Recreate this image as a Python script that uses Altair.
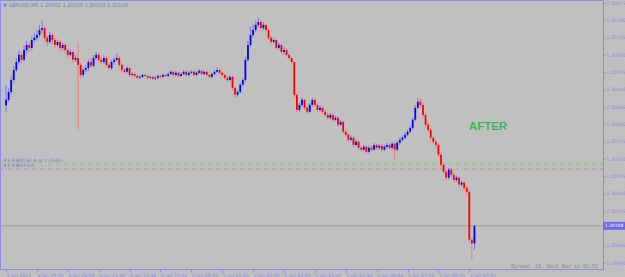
import altair as alt
import pandas as pd

# ---------------- data (GBPUSD M5) ----------------
opens = [
    1.20490, 1.20508, 1.20533, 1.20571, 1.20603, 1.20628, 1.20651, 1.20635, 1.20666, 1.20682, 1.20673, 1.20698,
    1.20705, 1.20714, 1.20730, 1.20736, 1.20705, 1.20692, 1.20714, 1.20698, 1.20682, 1.20692, 1.20673, 1.20682,
    1.20666, 1.20651, 1.20660, 1.20635, 1.20641, 1.20619, 1.20587, 1.20603, 1.20609, 1.20628, 1.20616, 1.20641,
    1.20651, 1.20635, 1.20628, 1.20641, 1.20619, 1.20609, 1.20628, 1.20635, 1.20641, 1.20619, 1.20603, 1.20597,
    1.20609, 1.20587, 1.20590, 1.20584, 1.20578, 1.20581, 1.20587, 1.20584, 1.20578, 1.20581, 1.20575, 1.20578,
    1.20584, 1.20581, 1.20587, 1.20584, 1.20590, 1.20597, 1.20587, 1.20594, 1.20584, 1.20590, 1.20597, 1.20587,
    1.20594, 1.20597, 1.20587, 1.20594, 1.20600, 1.20590, 1.20597, 1.20587, 1.20581, 1.20590, 1.20597, 1.20603,
    1.20594, 1.20587, 1.20578, 1.20571, 1.20581, 1.20546, 1.20524, 1.20533, 1.20556, 1.20571, 1.20635, 1.20682,
    1.20714, 1.20730, 1.20746, 1.20755, 1.20736, 1.20746, 1.20730, 1.20705, 1.20692, 1.20698, 1.20673, 1.20682,
    1.20660, 1.20666, 1.20651, 1.20641, 1.20628, 1.20524, 1.20476, 1.20492, 1.20508, 1.20483, 1.20470, 1.20492,
    1.20508, 1.20492, 1.20476, 1.20483, 1.20470, 1.20460, 1.20451, 1.20460, 1.20445, 1.20451, 1.20429, 1.20438,
    1.20407, 1.20397, 1.20381, 1.20388, 1.20365, 1.20375, 1.20356, 1.20350, 1.20359, 1.20343, 1.20356, 1.20350,
    1.20365, 1.20356, 1.20362, 1.20350, 1.20359, 1.20365, 1.20356, 1.20369, 1.20350, 1.20372, 1.20381, 1.20388,
    1.20397, 1.20407, 1.20419, 1.20445, 1.20483, 1.20502, 1.20492, 1.20460, 1.20429, 1.20413, 1.20388, 1.20375,
    1.20365, 1.20334, 1.20302, 1.20280, 1.20261, 1.20286, 1.20270, 1.20254, 1.20261, 1.20239, 1.20245, 1.20229,
    1.20216, 1.20064, 1.20052,
]
highs = [
    1.20555, 1.20545, 1.20585, 1.20615, 1.20640, 1.20665, 1.20660, 1.20680, 1.20695, 1.20690, 1.20710, 1.20720,
    1.20730, 1.20745, 1.20760, 1.20745, 1.20712, 1.20725, 1.20722, 1.20705, 1.20700, 1.20698, 1.20690, 1.20688,
    1.20672, 1.20668, 1.20665, 1.20650, 1.20690, 1.20625, 1.20610, 1.20618, 1.20635, 1.20640, 1.20650, 1.20660,
    1.20658, 1.20645, 1.20650, 1.20648, 1.20625, 1.20635, 1.20642, 1.20655, 1.20648, 1.20625, 1.20610, 1.20615,
    1.20612, 1.20595, 1.20594, 1.20588, 1.20586, 1.20592, 1.20591, 1.20588, 1.20585, 1.20585, 1.20583, 1.20589,
    1.20588, 1.20592, 1.20591, 1.20595, 1.20603, 1.20600, 1.20599, 1.20598, 1.20596, 1.20603, 1.20601, 1.20600,
    1.20603, 1.20601, 1.20599, 1.20606, 1.20604, 1.20602, 1.20601, 1.20592, 1.20595, 1.20602, 1.20610, 1.20607,
    1.20598, 1.20591, 1.20583, 1.20586, 1.20585, 1.20550, 1.20540, 1.20562, 1.20578, 1.20645, 1.20695, 1.20740,
    1.20750, 1.20760, 1.20770, 1.20762, 1.20755, 1.20752, 1.20735, 1.20712, 1.20706, 1.20702, 1.20690, 1.20686,
    1.20675, 1.20672, 1.20658, 1.20646, 1.20632, 1.20530, 1.20500, 1.20515, 1.20512, 1.20490, 1.20498, 1.20515,
    1.20512, 1.20497, 1.20490, 1.20488, 1.20476, 1.20466, 1.20466, 1.20465, 1.20458, 1.20456, 1.20445, 1.20442,
    1.20412, 1.20402, 1.20395, 1.20392, 1.20382, 1.20380, 1.20362, 1.20365, 1.20364, 1.20362, 1.20362, 1.20371,
    1.20370, 1.20368, 1.20366, 1.20365, 1.20371, 1.20370, 1.20375, 1.20373, 1.20378, 1.20388, 1.20395, 1.20404,
    1.20414, 1.20426, 1.20452, 1.20492, 1.20515, 1.20512, 1.20498, 1.20466, 1.20436, 1.20418, 1.20394, 1.20381,
    1.20370, 1.20340, 1.20308, 1.20286, 1.20292, 1.20292, 1.20276, 1.20268, 1.20266, 1.20252, 1.20250, 1.20234,
    1.20222, 1.20070, 1.20108,
]
lows = [
    1.20470, 1.20500, 1.20525, 1.20560, 1.20595, 1.20620, 1.20625, 1.20630, 1.20655, 1.20660, 1.20665, 1.20690,
    1.20695, 1.20705, 1.20720, 1.20695, 1.20680, 1.20685, 1.20685, 1.20670, 1.20675, 1.20660, 1.20665, 1.20655,
    1.20640, 1.20645, 1.20625, 1.20628, 1.20413, 1.20575, 1.20580, 1.20595, 1.20600, 1.20608, 1.20610, 1.20635,
    1.20628, 1.20620, 1.20622, 1.20612, 1.20600, 1.20603, 1.20620, 1.20630, 1.20612, 1.20596, 1.20590, 1.20592,
    1.20580, 1.20582, 1.20578, 1.20572, 1.20574, 1.20577, 1.20580, 1.20573, 1.20575, 1.20570, 1.20571, 1.20574,
    1.20576, 1.20577, 1.20580, 1.20580, 1.20586, 1.20583, 1.20583, 1.20580, 1.20580, 1.20586, 1.20582, 1.20583,
    1.20589, 1.20582, 1.20583, 1.20590, 1.20585, 1.20585, 1.20582, 1.20576, 1.20577, 1.20586, 1.20592, 1.20588,
    1.20582, 1.20572, 1.20564, 1.20566, 1.20538, 1.20515, 1.20518, 1.20528, 1.20550, 1.20565, 1.20628, 1.20675,
    1.20705, 1.20722, 1.20738, 1.20728, 1.20730, 1.20722, 1.20698, 1.20685, 1.20686, 1.20665, 1.20667, 1.20652,
    1.20652, 1.20644, 1.20634, 1.20620, 1.20515, 1.20468, 1.20470, 1.20486, 1.20476, 1.20462, 1.20465, 1.20486,
    1.20486, 1.20470, 1.20470, 1.20464, 1.20452, 1.20444, 1.20445, 1.20438, 1.20440, 1.20422, 1.20424, 1.20400,
    1.20390, 1.20374, 1.20376, 1.20358, 1.20360, 1.20350, 1.20343, 1.20345, 1.20336, 1.20338, 1.20344, 1.20345,
    1.20350, 1.20351, 1.20344, 1.20345, 1.20354, 1.20350, 1.20351, 1.20320, 1.20345, 1.20366, 1.20376, 1.20382,
    1.20392, 1.20402, 1.20413, 1.20440, 1.20478, 1.20485, 1.20452, 1.20420, 1.20405, 1.20380, 1.20368, 1.20357,
    1.20326, 1.20294, 1.20272, 1.20252, 1.20255, 1.20262, 1.20246, 1.20248, 1.20230, 1.20234, 1.20222, 1.20208,
    1.20055, 1.20001, 1.20032,
]
closes = [
    1.20508, 1.20533, 1.20571, 1.20603, 1.20628, 1.20651, 1.20635, 1.20666, 1.20682, 1.20673, 1.20698, 1.20705,
    1.20714, 1.20730, 1.20736, 1.20705, 1.20692, 1.20714, 1.20698, 1.20682, 1.20692, 1.20673, 1.20682, 1.20666,
    1.20651, 1.20660, 1.20635, 1.20641, 1.20619, 1.20587, 1.20603, 1.20609, 1.20628, 1.20616, 1.20641, 1.20651,
    1.20635, 1.20628, 1.20641, 1.20619, 1.20609, 1.20628, 1.20635, 1.20641, 1.20619, 1.20603, 1.20597, 1.20609,
    1.20587, 1.20590, 1.20584, 1.20578, 1.20581, 1.20587, 1.20584, 1.20578, 1.20581, 1.20575, 1.20578, 1.20584,
    1.20581, 1.20587, 1.20584, 1.20590, 1.20597, 1.20587, 1.20594, 1.20584, 1.20590, 1.20597, 1.20587, 1.20594,
    1.20597, 1.20587, 1.20594, 1.20600, 1.20590, 1.20597, 1.20587, 1.20581, 1.20590, 1.20597, 1.20603, 1.20594,
    1.20587, 1.20578, 1.20571, 1.20581, 1.20546, 1.20524, 1.20533, 1.20556, 1.20571, 1.20635, 1.20682, 1.20714,
    1.20730, 1.20746, 1.20755, 1.20736, 1.20746, 1.20730, 1.20705, 1.20692, 1.20698, 1.20673, 1.20682, 1.20660,
    1.20666, 1.20651, 1.20641, 1.20628, 1.20524, 1.20476, 1.20492, 1.20508, 1.20483, 1.20470, 1.20492, 1.20508,
    1.20492, 1.20476, 1.20483, 1.20470, 1.20460, 1.20451, 1.20460, 1.20445, 1.20451, 1.20429, 1.20438, 1.20407,
    1.20397, 1.20381, 1.20388, 1.20365, 1.20375, 1.20356, 1.20350, 1.20359, 1.20343, 1.20356, 1.20350, 1.20365,
    1.20356, 1.20362, 1.20350, 1.20359, 1.20365, 1.20356, 1.20369, 1.20350, 1.20372, 1.20381, 1.20388, 1.20397,
    1.20407, 1.20419, 1.20445, 1.20483, 1.20502, 1.20492, 1.20460, 1.20429, 1.20413, 1.20388, 1.20375, 1.20365,
    1.20334, 1.20302, 1.20280, 1.20261, 1.20286, 1.20270, 1.20254, 1.20261, 1.20239, 1.20245, 1.20229, 1.20216,
    1.20064, 1.20052, 1.20108,
]

time_tick_index = [0, 12, 24, 36, 48, 60, 72, 84, 96, 108, 120, 132, 144, 156, 168, 180]
time_labels = ["4 Jan 2021", "4 Jan 19:40", "4 Jan 20:40", "4 Jan 21:40", "4 Jan 22:40", "4 Jan 23:40",
               "5 Jan 00:45", "5 Jan 01:45", "5 Jan 02:45", "5 Jan 03:45", "5 Jan 04:45", "5 Jan 05:45",
               "5 Jan 06:45", "5 Jan 07:45", "5 Jan 08:45", "5 Jan 09:45"]
# 1.20100 sits under the highlighted bid label, so it is not printed
price_ticks = [1.20815, 1.20760, 1.20705, 1.20650, 1.20595, 1.20540, 1.20485, 1.20430,
               1.20375, 1.20320, 1.20265, 1.20210, 1.20155, 1.20045, 1.19990]

fibo_green = [1.20307, 1.20300]
fibo_red = [1.20288]
fibo_texts = ["#3 (FIBO) 61.8 at 1.20307", "#3 (FIBO) 0.0"]
fibo_text_prices = [1.20313, 1.20297]

bid_price = 1.20108
header = "\u25bc GBPUSD,M5  1.20052 1.20108 1.20032 1.20108"
status = "Spread: 10. Next Bar in 01:52"
stamp = "AFTER"

# ---------------- chart ----------------
W, H = 603, 269
AX = "#8c8ce8"
BG = "#c0c0c0"

df = pd.DataFrame({"i": list(range(len(closes))), "open": opens, "high": highs,
                   "low": lows, "close": closes})
df["dir"] = ["up" if c >= o else "down" for o, c in zip(opens, closes)]

xs = alt.Scale(domain=[-0.4, 230.0], nice=False, zero=False)
ys = alt.Scale(domain=[1.19971, 1.20825], nice=False, zero=False)

label_expr = "[" + ",".join("'%s'" % t for t in time_labels) + "][round(datum.value/12)]"

x_axis = alt.Axis(values=time_tick_index, labelExpr=label_expr, labelAlign="left",
                  labelFontSize=4.6, labelFont="DejaVu Sans", labelColor=AX, tickColor=AX,
                  domainColor=AX, tickSize=3, labelPadding=0, grid=False, title=None,
                  labelFlush=False, labelOverlap=False)
y_axis = alt.Axis(orient="right", values=price_ticks, format=".5f", labelFontSize=4.6,
                  labelFont="DejaVu Sans", labelColor=AX, tickColor=AX, domainColor=AX,
                  tickSize=2, labelPadding=1, grid=False, title=None, labelFlush=False,
                  labelOverlap=False)


def X(field):
    return alt.X(field, type="quantitative", scale=xs, axis=x_axis)


def Y(field):
    return alt.Y(field, type="quantitative", scale=ys, axis=y_axis)


base = alt.Chart(df)
up = base.transform_filter(alt.datum.dir == "up")
dn = base.transform_filter(alt.datum.dir == "down")

wick_up = up.mark_rule(strokeWidth=1, color="#7878f0").encode(x=X("i"), y=Y("low"), y2="high")
wick_dn = dn.mark_rule(strokeWidth=1, color="#f07878").encode(x=X("i"), y=Y("low"), y2="high")
body_up = up.mark_bar(size=1.8, color="#0000ff").encode(x=X("i"), y=Y("open"), y2="close")
body_dn = dn.mark_bar(size=1.8, color="#ff0000").encode(x=X("i"), y=Y("open"), y2="close")

fg = alt.Chart(pd.DataFrame({"p": fibo_green})).mark_rule(
    strokeWidth=1, strokeDash=[3, 2, 1, 2], color="#7fd07f").encode(y=Y("p"))
fr = alt.Chart(pd.DataFrame({"p": fibo_red})).mark_rule(
    strokeWidth=1, strokeDash=[3, 2, 1, 2], color="#e07f7f").encode(y=Y("p"))
ftdf = pd.DataFrame({"p": fibo_text_prices, "t": fibo_texts})
fibo_txt = alt.Chart(ftdf).mark_text(align="left", baseline="middle", fontSize=4.5,
                                     font="DejaVu Sans", color="#7070d8").encode(
    x=alt.value(3), y=Y("p"), text="t:N")

bdf = pd.DataFrame({"p": [bid_price], "t": ["%.5f" % bid_price]})
bid_line = alt.Chart(bdf).mark_rule(color="#9c9c9c", strokeWidth=1).encode(y=Y("p"))
bid_box = alt.Chart(bdf).mark_point(shape="M-1,-0.36H1V0.36H-1Z", filled=True, opacity=1,
                                    color="#6b6bea", size=484).encode(
    x=alt.value(614), y=Y("p"))
bid_txt = alt.Chart(bdf).mark_text(align="center", baseline="middle", fontSize=4.5,
                                   font="DejaVu Sans", color="white").encode(
    x=alt.value(614), y=Y("p"), text="t:N")

tdf = pd.DataFrame({"t": [header, status, stamp]})
head_txt = alt.Chart(tdf).transform_filter(alt.datum.t == header).mark_text(
    align="left", baseline="middle", fontSize=5, font="DejaVu Sans", color="#7a7ac8").encode(
    x=alt.value(3), y=alt.value(5), text="t:N")
status_txt = alt.Chart(tdf).transform_filter(alt.datum.t == status).mark_text(
    align="right", baseline="middle", fontSize=5, font="Liberation Mono", color="#8a8a8a").encode(
    x=alt.value(598), y=alt.value(266), text="t:N")
stamp_txt = alt.Chart(tdf).transform_filter(alt.datum.t == stamp).mark_text(
    align="center", baseline="middle", fontSize=11.5, font="Liberation Sans", fontWeight="bold",
    color="#3cb55a").encode(
    x=alt.value(488), y=alt.value(127), text="t:N")

chart = alt.layer(
    fg, fr, bid_line, wick_up, wick_dn, body_up, body_dn, fibo_txt, bid_box, bid_txt,
    head_txt, status_txt, stamp_txt
).properties(
    width=W, height=H, background=BG, autosize="none",
    padding={"left": 0, "top": 0, "right": 22, "bottom": 8},
).configure_view(fill=BG, stroke=AX, strokeWidth=1)

chart.save("out.html", embed_options={"renderer": "svg", "actions": False})
